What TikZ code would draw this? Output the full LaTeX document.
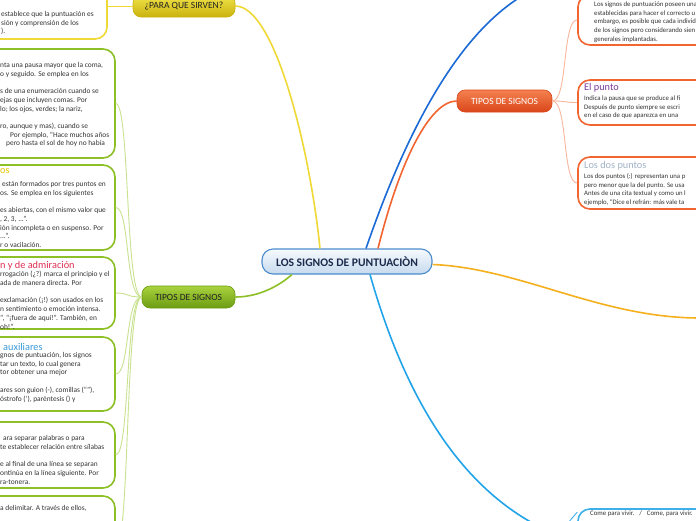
\documentclass[tikz,border=0pt]{standalone}
\usepackage{fontspec}
\setmainfont{Carlito}
\usetikzlibrary{positioning}
\definecolor{rootStroke}{HTML}{4A8CCC}
\definecolor{rootTop}{HTML}{F6FAFD}
\definecolor{rootBot}{HTML}{C6DAEE}
\definecolor{rootText}{HTML}{1C2B4C}
\definecolor{yelTop}{HTML}{F2E44A}
\definecolor{yelBot}{HTML}{C9B20E}
\definecolor{yelLine}{HTML}{EED936}
\definecolor{grnTop}{HTML}{A9D23E}
\definecolor{grnBot}{HTML}{6C9C12}
\definecolor{grnLine}{HTML}{8DC026}
\definecolor{grnTwig}{HTML}{C9E290}
\definecolor{orgTop}{HTML}{F5814F}
\definecolor{orgBot}{HTML}{D9461A}
\definecolor{orgLine}{HTML}{F26430}
\definecolor{orgTwig}{HTML}{F8B79D}
\definecolor{bluTop}{HTML}{1C6AD6}
\definecolor{bluLow}{HTML}{22A4EA}
\definecolor{bluNote}{HTML}{3DB0EA}
\definecolor{amber}{HTML}{F5B01E}
\definecolor{bodyText}{HTML}{333333}
\definecolor{inkText}{HTML}{222222}
\definecolor{ttlYel}{HTML}{E8C800}
\definecolor{ttlRed}{HTML}{DE2F52}
\definecolor{ttlBlue}{HTML}{3A9AD8}
\definecolor{ttlPurp}{HTML}{7A3C9C}
\definecolor{ttlGrey}{HTML}{A2B2C6}
\newcommand\notefont{\fontsize{7.4}{8.7}\selectfont}
\newcommand\rightfont{\fontsize{6.8}{8.7}\selectfont}

\begin{document}
\begin{tikzpicture}[
  x=1pt, y=-1pt,
  every node/.style={text=inkText},
  root/.style={rounded corners=11pt, draw=rootStroke, line width=1.1pt,
               top color=rootTop, bottom color=rootBot, minimum width=170pt,
               minimum height=25pt, inner sep=0pt, text=rootText,
               font=\fontsize{11.6}{13}\selectfont\bfseries},
  topic/.style={rounded corners=8pt, line width=0.6pt, minimum height=22pt,
                inner sep=0pt, font=\fontsize{9.5}{11}\selectfont},
  note/.style={draw, rounded corners=12pt, line width=1.6pt, fill=white, inner sep=0pt},
  txt/.style={anchor=north west, align=left, inner sep=0pt, font=\notefont, text=bodyText},
  rtxt/.style={txt, font=\rightfont},
  ttl/.style={anchor=north west, inner sep=0pt, font=\fontsize{10.3}{12}\selectfont},
  branch/.style={line width=1.6pt},
  twig/.style={line width=0.9pt},
]
\useasboundingbox (0,0) rectangle (696,520);
\fill[white] (0,0) rectangle (696,520);
\clip (0,0) rectangle (696,520);

% ---------------- TOPICS ----------------
\node[root] (root) at (347,261.5) {LOS SIGNOS DE PUNTUACIÒN};
\node[topic, draw=yelBot, top color=yelTop, bottom color=yelBot, minimum width=102pt]
  (sirven) at (184,6) {¿PARA QUE SIRVEN?};
\node[topic, draw=grnBot, top color=grnTop, bottom color=grnBot, minimum width=93pt]
  (tiposL) at (188.5,297) {TIPOS DE SIGNOS};
\node[topic, draw=orgBot, top color=orgTop, bottom color=orgBot, minimum width=95pt, text=white]
  (tiposR) at (504.5,101) {TIPOS DE SIGNOS};

% ---------------- NOTES (left) ----------------
\node[note, draw=yelLine, minimum width=257pt, minimum height=69pt] (ynote) at (-21.5,4.5) {};
\node[note, draw=grnLine, minimum width=265pt, minimum height=109pt] (g1) at (-17.5,103.5) {};
\node[note, draw=grnLine, minimum width=265pt, minimum height=85pt] (g2) at (-17.5,207.5) {};
\node[note, draw=grnLine, minimum width=265pt, minimum height=72pt] (g3) at (-17.5,293) {};
\node[note, draw=grnLine, minimum width=265pt, minimum height=74pt] (g4) at (-17.5,374) {};
\node[note, draw=grnLine, minimum width=265pt, minimum height=66pt] (g5) at (-17.5,455) {};
\node[note, draw=grnLine, minimum width=265pt, minimum height=104pt] (g6) at (-17.5,548) {};

% ---------------- NOTES (right) ----------------
\node[note, draw=orgLine, minimum width=272pt, minimum height=50pt] (o1) at (714,20) {};
\node[note, draw=orgLine, minimum width=272pt, minimum height=45pt] (o2) at (714,102.5) {};
\node[note, draw=orgLine, minimum width=272pt, minimum height=52pt] (o3) at (714,183) {};
\node[note, draw=bluNote, minimum width=272pt, minimum height=51pt] (bnote) at (714,534.5) {};

% ---------------- NOTE TEXTS ----------------
\node[txt] (ytxt) at (1,11.2) {establece que la puntuación es\\sión y comprensión de los\\).};
\node[txt] (g1txt) at (0,62.2) {nta una pausa mayor que la coma,\\o y seguido. Se emplea en los\\[8.7pt]
  s de una enumeración cuando se\\ejas que incluyen comas. Por\\lo; los ojos, verdes; la nariz,\\[8.7pt]
  ro, aunque y mas), cuando se\\\hspace*{10pt}Por ejemplo, “Hace muchos años\\\hspace*{6pt}pero hasta el sol de hoy no había};
\node[ttl, text=ttlYel] (g2ttl) at (0,168.5) {os};
\node[txt] (g2txt) at (0,181.2) {\hspace*{2pt}están formados por tres puntos en\\os. Se emplea en los siguientes\\[8.7pt]
  es abiertas, con el mismo valor que\\, 2, 3, ...”.\\ión incompleta o en suspenso. Por\\...”.\\r o vacilación.};
\node[ttl, text=ttlRed] (g3ttl) at (0,261.5) {n y de admiración};
\node[txt] (g3txt) at (0,271.2) {rrogación (¿?) marca el principio y el\\ada de manera directa. Por\\[8.7pt]
  exclamación (¡!) son usados en los\\n sentimiento o emoción intensa.\\”, “¡fuera de aquí!”. También, en\\oh!”.};
\node[ttl, text=ttlBlue] (g4ttl) at (3,343.5) {auxiliares};
\node[txt] (g4txt) at (0,352.2) {gnos de puntuación, los signos\\tar un texto, lo cual genera\\tor obtener una mejor\\[8.7pt]
  ares son guion (-), comillas (“”),\\óstrofo ('), paréntesis () y};
\node[txt] (g5txt) at (0,435.2) {\hspace*{3pt}ara separar palabras o para\\te establecer relación entre sílabas\\[8.7pt]
  e al final de una línea se separan\\ontinúa en la línea siguiente. Por\\ra-tonera.};
\node[txt] (g6txt) at (0,505.2) {a delimitar. A través de ellos,};

\node[rtxt] (o1txt) at (594,1.6) {Los signos de puntuación poseen una\\establecidas para hacer el correcto u\\
  embargo, es posible que cada individ\\de los signos pero considerando sien\\generales implantadas.};
\node[ttl, text=ttlPurp] (o2ttl) at (584,83) {El punto};
\node[rtxt] (o2txt) at (584,95.4) {Indica la pausa que se produce al fi\\Después de punto siempre se escri\\en el caso de que aparezca en una};
\node[ttl, text=ttlGrey] (o3ttl) at (584,161) {Los dos puntos};
\node[rtxt] (o3txt) at (584,173.4) {Los dos puntos (:) representan una p\\pero menor que la del punto. Se usa\\
  Antes de una cita textual y como un l\\ejemplo, “Dice el refrán: más vale ta};
\node[rtxt] (btxt) at (590,510.4) {Come para vivir.\hspace{5pt}/\hspace{5pt}Come, para vivir.};

% ---------------- BRANCHES ----------------
\coordinate (offTop) at (522,-4);
\coordinate (offLow) at (538,526);
\coordinate (offRight) at (700,318);
\coordinate (offNote) at (566,526);
\draw[branch, yelLine] ([xshift=-27pt]root.north) .. controls (310,150) and (275,6) .. (sirven.east);
\draw[branch, grnLine] ([xshift=-55pt]root.south) .. controls (280,285) and (260,297) .. (tiposL.east);
\draw[branch, orgLine] ([xshift=31pt]root.north) .. controls (400,160) and (430,101) .. (tiposR.west);
\draw[branch, bluTop] ([xshift=19pt]root.north) .. controls (400,150) and (450,40) .. (offTop);
\draw[branch, bluLow] ([xshift=23pt]root.south) .. controls (400,380) and (450,480) .. (offLow);
\draw[branch, amber] ([yshift=-3pt]root.east) .. controls (520,268) and (600,318) .. (offRight);

% ---------------- TWIGS ----------------
\draw[twig, yelLine] (sirven.west) -- (sirven.west -| ynote.east);
\foreach \g in {g1,g2,g3,g4,g5,g6}
  \draw[twig, grnTwig] (tiposL.west) .. controls (125,297) and (130,0 |- \g.east) .. (\g.east);
\foreach \o in {o1,o2,o3}
  \draw[twig, orgTwig] (tiposR.east) .. controls (568,101) and (562,0 |- \o.west) .. (\o.west);
\draw[twig, bluNote] (offNote) .. controls (570,520) and (574,516) .. ([yshift=-4pt]bnote.north west);
\end{tikzpicture}
\end{document}
